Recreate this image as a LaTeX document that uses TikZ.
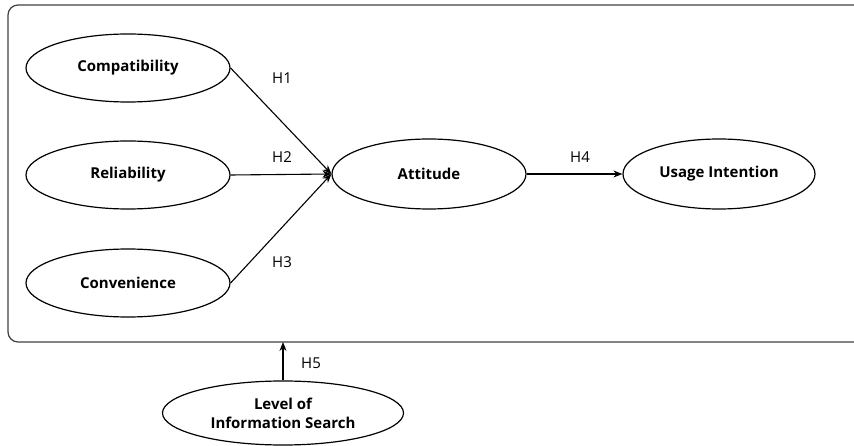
\documentclass[tikz,border=0pt]{standalone}
\usepackage{fontspec}
\setmainfont{Open Sans}
\usetikzlibrary{arrows.meta,shapes.geometric}

\tikzset{
    construct/.style={draw, ellipse, line width=1.2pt, minimum width=204pt, minimum height=68pt,
        inner sep=0pt, font=\fontsize{15}{17}\selectfont\bfseries, align=center},
    hyp/.style={font=\fontsize{15}{17}\selectfont},
    path/.style={-{Stealth[length=9pt,width=7pt]}, line width=1.1pt}
}

\begin{document}
\begin{tikzpicture}[x=1pt, y=-1pt]
    \useasboundingbox (0, 0) rectangle (854, 446);

    % Outer frame (runs past the right edge)
    \draw[rounded corners=10pt, line width=1.2pt, black!75] (8, 5) rectangle (880, 342);
    \coordinate (frame) at (283, 342);

    % Constructs
    \node[construct] (comp) at (128, 68) {Compatibility};
    \node[construct] (rel) at (128, 175) {Reliability};
    \node[construct] (conv) at (128, 283) {Convenience};
    \node[construct, minimum width=194pt, minimum height=70pt] (att) at (429, 174) {Attitude};
    \node[construct, minimum width=192pt, minimum height=70pt] (use) at (719, 174) {Usage Intention};
    \node[construct, minimum width=241pt, minimum height=64pt, font=\fontsize{15}{19}\selectfont\bfseries]
        (lis) at (283, 413) {Level of\\Information Search};

    % Paths
    \draw[path] (comp.east) -- (att.west);
    \draw[path] (rel.east) -- (att.west);
    \draw[path] (conv.east) -- (att.west);
    \draw[path] (att.east) -- (use.west);
    \draw[path] (lis.north) -- (frame);

    % Hypothesis labels
    \node[hyp] (h1) at (282, 78) {H1};
    \node[hyp] (h2) at (282, 157) {H2};
    \node[hyp] (h3) at (282, 262) {H3};
    \node[hyp] (h4) at (580, 157) {H4};
    \node[hyp] (h5) at (311, 363) {H5};
\end{tikzpicture}
\end{document}
